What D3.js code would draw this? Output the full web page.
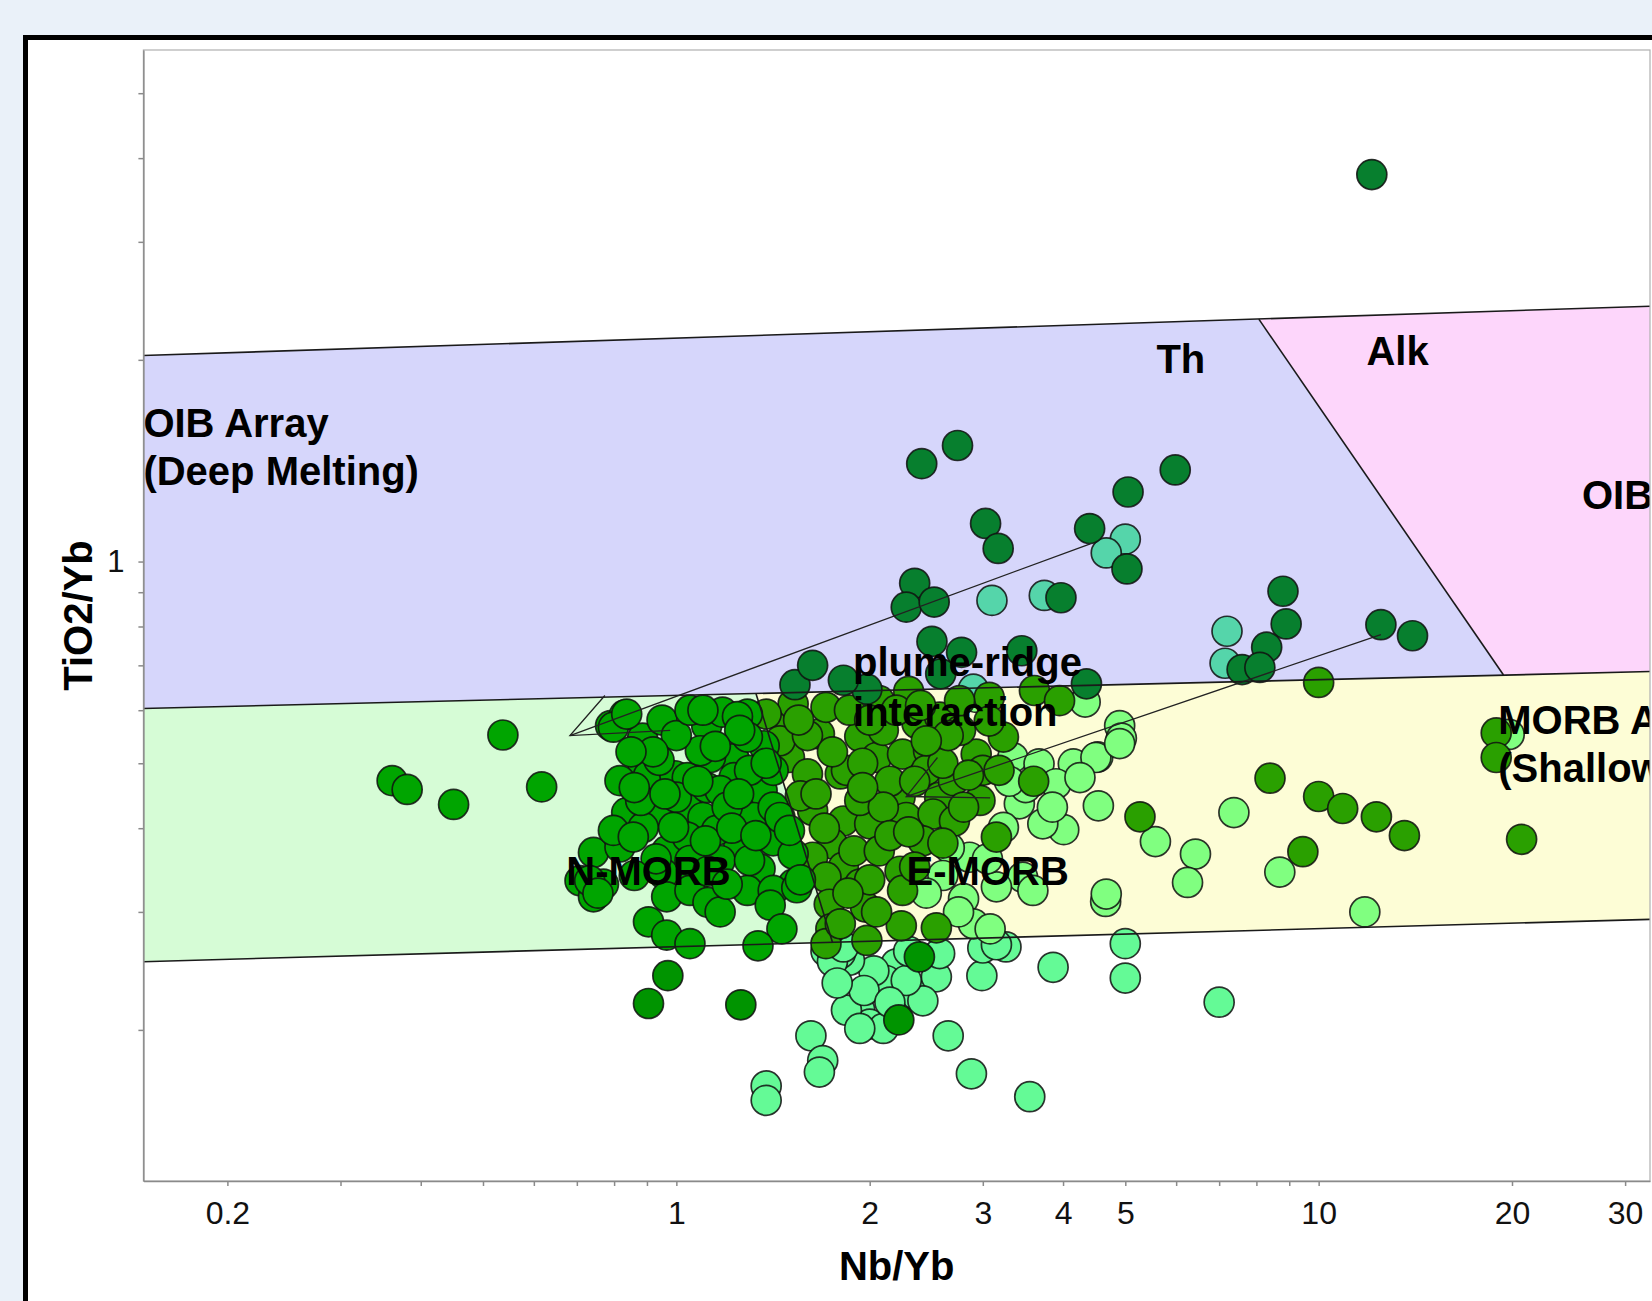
<!DOCTYPE html>
<html><head><meta charset="utf-8">
<script src="https://d3js.org/d3.v7.min.js"></script>
<style>
  body { margin: 0; background: #eaf1f9; overflow: hidden; }
  svg text { font-family: "Liberation Sans", Arial, sans-serif; }
  .axis path, .axis line { stroke: #8a8a8a; stroke-width: 1.5; }
  .axis text { fill: #111; }
  .label { font-weight: bold; font-size: 40px; fill: #000; }
</style>
</head><body>
<svg id="chart" width="1652" height="1301"></svg>
<script>

// ---- data ----
const xTicks = [0.2,0.3,0.4,0.5,0.6,0.7,0.8,0.9,1,2,3,4,5,6,7,8,9,10,20,30];
const xLabels = [0.2,1,2,3,4,5,10,20,30];
const yTicks = [0.2,0.3,0.4,0.5,0.6,0.7,0.8,0.9,1,2,3,4,5];
const yLabels = [1];

// field outlines (Nb/Yb, TiO2/Yb)
const thField    = [[0.1,2.005],[8.07,2.30],[19.4,0.677],[0.1,0.598]];
const alkField   = [[8.07,2.30],[50,2.437],[50,0.692],[19.4,0.677]];
const nmorbField = [[0.1,0.598],[1.33,0.636],[1.75,0.2703],[0.1,0.2502]];
const emorbField = [[1.33,0.636],[50,0.692],[50,0.2958],[1.75,0.2703]];
const boundaries = [
  [[0.1,2.005],[50,2.437]],
  [[0.1,0.598],[50,0.692]],
  [[0.1,0.2502],[50,0.2958]],
  [[8.07,2.30],[19.4,0.677]],
  [[1.33,0.636],[1.75,0.2703]]
];

// plume-ridge interaction vectors: start, tip, two barbs
const arrows = [
  [[4.41,1.063],[0.683,0.55],[0.774,0.631],[0.978,0.56]],
  [[12.5,0.778],[2.28,0.446],[2.55,0.51],[3.08,0.444]]
];

const mintPts = [[5.0,0.269],[5.0,0.239],[7.0,0.22],[3.86,0.248],[3.55,0.159],[2.88,0.172],[2.65,0.196],[2.99,0.241],
  [3.26,0.266],[3.0,0.265],[2.03,0.232],[2.37,0.225],[2.54,0.24],[2.2,0.251],[1.93,0.214],[2.0,0.204],[1.84,0.214],
  [2.12,0.237],[2.42,0.221],[2.57,0.26],[2.03,0.245],[1.86,0.254],[1.8,0.26],[2.28,0.237],[2.1,0.201],[1.93,0.201],
  [1.71,0.262],[1.75,0.253],[1.62,0.196],[1.69,0.18],[1.67,0.173],[1.38,0.165],[1.38,0.157],[1.96,0.229],[1.82,0.266],
  [3.15,0.268],[2.3,0.262],[2.15,0.22],[1.78,0.235]];

const lightPts = [[4.9,0.569],[4.93,0.545],[4.53,0.511],[4.17,0.493],[4.54,0.432],[4.01,0.398],[5.57,0.382],[6.43,0.366],
  [6.25,0.332],[4.66,0.311],[7.38,0.422],[8.7,0.344],[11.8,0.3],[19.8,0.552],[4.33,0.617],[3.34,0.51],[3.67,0.499],
  [4.15,0.499],[4.5,0.51],[4.9,0.535],[3.42,0.435],[3.72,0.406],[3.23,0.401],[3.5,0.46],[3.9,0.466],[4.25,0.476],
  [2.86,0.362],[2.66,0.374],[2.93,0.627],[4.67,0.319],[3.46,0.338],[2.8,0.314],[2.9,0.288],[3.08,0.283],[3.59,0.323],
  [3.15,0.327],[2.6,0.34],[2.75,0.3],[2.45,0.32],[3.3,0.47],[3.05,0.36],[3.85,0.43]];

const tealPts = [[5.0,1.08],[4.67,1.03],[3.1,0.875],[3.74,0.89],[2.9,0.645],[7.2,0.787],[7.15,0.705]];

const olivePts = [[3.07,0.627],[3.61,0.642],[3.95,0.62],[10.0,0.66],[5.27,0.416],[8.4,0.475],[9.45,0.369],[10,0.446],
  [10.9,0.428],[12.3,0.416],[13.6,0.39],[18.9,0.555],[18.9,0.51],[20.7,0.385],
  [1.49,0.58],[1.67,0.553],[1.5,0.51],[1.6,0.482],[1.8,0.482],[1.63,0.425],[1.82,0.41],[1.75,0.379],[1.63,0.362],
  [1.82,0.35],[1.71,0.338],[1.52,0.613],[1.71,0.606],[1.38,0.592],[1.93,0.548],[2.05,0.51],[1.84,0.488],[2.25,0.516],
  [2.47,0.522],[2.45,0.488],[2.23,0.445],[2.57,0.445],[2.7,0.471],[2.93,0.516],[3.23,0.547],[3.0,0.488],[2.97,0.44],
  [2.0,0.406],[2.28,0.415],[2.51,0.42],[2.42,0.383],[1.89,0.37],[2.07,0.37],[3.15,0.388],[1.93,0.33],[2.23,0.345],
  [2.1,0.56],[2.37,0.573],[2.57,0.586],[3.6,0.47],[1.73,0.308],[1.74,0.283],[1.71,0.269],[1.97,0.305],[2.24,0.286],
  [2.54,0.284],[2.25,0.323],[1.98,0.272],[1.8,0.288],[1.45,0.54],[1.56,0.447],[1.93,0.44],[2.15,0.47],[2.77,0.56],
  [2.71,0.41],[2.07,0.62],[1.86,0.6],[2.3,0.64],[2.76,0.62],[3.07,0.578],[3.18,0.488],[2.0,0.335],
  [1.6,0.55],[1.75,0.52],[1.95,0.5],[2.1,0.43],[2.35,0.47],[2.6,0.5],[2.65,0.55],[2.2,0.6],[1.65,0.45],[1.7,0.4],
  [2.15,0.39],[2.6,0.38],[2.35,0.35],[2.05,0.3],[1.85,0.32],[2.4,0.61],[2.85,0.48],[1.55,0.58],[2.0,0.58],[2.45,0.54],
  [2.8,0.43],[1.95,0.46],[2.3,0.395]];

const greenPts = [[0.361,0.471],[0.381,0.457],[0.45,0.434],[0.537,0.551],[0.617,0.461],[0.79,0.569],[0.83,0.59],
  [0.886,0.545],[0.798,0.566],[0.837,0.592],[0.888,0.493],[0.905,0.479],[0.995,0.479],[0.837,0.422],[0.932,0.425],
  [1.04,0.428],[1.1,0.415],[0.743,0.368],[0.817,0.375],[0.966,0.37],[1.115,0.569],[1.18,0.596],[1.29,0.592],[1.23,0.508],
  [1.115,0.46],[1.23,0.476],[1.36,0.455],[1.32,0.415],[1.25,0.381],[1.415,0.383],[1.155,0.397],[1.04,0.388],[1.17,0.358],
  [1.35,0.348],[1.52,0.366],[1.52,0.33],[1.415,0.43],[1.37,0.531],[1.29,0.547],[1.13,0.51],[1.04,0.476],[1.415,0.488],
  [1.45,0.415],[0.99,0.401],[0.888,0.401],[0.798,0.397],[0.857,0.388],[0.708,0.334],[0.77,0.33],[1.06,0.33],[0.955,0.342],
  [1.29,0.323],[1.415,0.323],[0.743,0.316],[0.966,0.316],[1.05,0.323],[1.12,0.31],[1.17,0.3],[0.905,0.29],[0.966,0.277],
  [1.05,0.269],[1.4,0.307],[1.54,0.326],[1.46,0.283],[1.34,0.267],[0.733,0.334],[0.755,0.32],[1.245,0.587],[0.94,0.505],
  [1.09,0.522],[1.17,0.455],[1.05,0.358],[1.3,0.488],[0.88,0.44],[0.817,0.471],[1.11,0.383],[1.3,0.358],[1.255,0.56],
  [1.56,0.335],[1.5,0.397],
  [0.95,0.58],[1.0,0.55],[1.05,0.6],[0.92,0.52],[1.0,0.445],[1.08,0.47],[1.2,0.43],[1.25,0.45],[1.15,0.53],[0.86,0.46],
  [0.96,0.45],[1.22,0.4],[1.33,0.39],[0.93,0.36],[0.86,0.34],[1.12,0.345],[1.2,0.33],[1.38,0.5],[0.85,0.52],[1.1,0.6]];

const green2Pts = [[0.97,0.241],[0.905,0.219],[1.26,0.218],[2.39,0.257],[2.22,0.207]];

const darkPts = [[12.1,3.78],[2.41,1.40],[2.74,1.49],[5.98,1.37],[5.05,1.27],[3.03,1.14],[3.17,1.046],[4.4,1.12],
  [5.03,0.975],[2.35,0.928],[2.28,0.855],[2.52,0.87],[3.97,0.883],[2.5,0.76],[2.78,0.732],[3.45,0.736],[2.58,0.68],
  [1.98,0.645],[1.82,0.665],[4.35,0.657],[8.8,0.903],[8.9,0.807],[8.3,0.745],[7.6,0.69],[8.1,0.695],[12.5,0.805],
  [14.0,0.775],[1.53,0.655],[1.63,0.70]];

// label text with anchor (Nb/Yb, TiO2/Yb)
const fieldLabels = [
  ["OIB Array", 0.148, 1.534], ["(Deep Melting)", 0.148, 1.30],
  ["Th", 5.59, 1.91], ["Alk", 11.87, 1.965], ["OIB", 25.7, 1.198],
  ["MORB Array", 19.04, 0.553], ["(Shallow Melting)", 19.04, 0.469],
  ["plume-ridge", 1.884, 0.675], ["interaction", 1.884, 0.568],
  ["N-MORB", 0.674, 0.329], ["E-MORB", 2.283, 0.329]
];

// ---- chart ----
const svg = d3.select("#chart");
const plot = {left: 143.4, right: 1650, top: 50, bottom: 1181};

svg.append("rect").attr("x", 25.5).attr("y", 37.5)
   .attr("width", 1700).attr("height", 1400)
   .attr("fill", "#fff").attr("stroke", "#000").attr("stroke-width", 5);

const x = d3.scaleLog().domain([0.148, 32.8]).range([plot.left, plot.right]);
const y = d3.scaleLog().domain([0.119, 5.8]).range([plot.bottom, plot.top]);

svg.append("clipPath").attr("id", "clip").append("rect")
   .attr("x", plot.left).attr("y", plot.top)
   .attr("width", plot.right - plot.left).attr("height", plot.bottom - plot.top);

const g = svg.append("g").attr("clip-path", "url(#clip)");
const line = d3.line().x(d => x(d[0])).y(d => y(d[1]));

// fields
[[thField, "#d6d6fb"], [alkField, "#fdd6fb"], [nmorbField, "#d6fcd6"], [emorbField, "#fdfdd6"]]
  .forEach(([poly, col]) => {
    g.append("path").attr("d", line(poly) + "Z").attr("fill", col);
  });

// points
const groups = [
  [mintPts, "#64fa96"], [lightPts, "#80ff80"], [tealPts, "#55d5aa"], [olivePts, "#2aa000"],
  [greenPts, "#00a500"], [green2Pts, "#009400"], [darkPts, "#077f2e"]
];
groups.forEach(([pts, col]) => {
  g.append("g").selectAll("circle").data(pts).join("circle")
    .attr("cx", d => x(d[0]))
    .attr("cy", d => y(d[1]))
    .attr("r", 15)
    .attr("fill", col)
    .attr("stroke", "#111")
    .attr("stroke-opacity", 0.85)
    .attr("stroke-width", 1.7);
});

// field boundaries
boundaries.forEach(b => {
  g.append("path").attr("d", line(b)).attr("fill", "none")
   .attr("stroke", "#1a1a1a").attr("stroke-width", 1.6);
});

// arrows
arrows.forEach(a => {
  g.append("path").attr("d", line([a[0], a[1]])).attr("fill", "none")
   .attr("stroke", "#222").attr("stroke-width", 1.3);
  g.append("path").attr("d", line([a[2], a[1], a[3]])).attr("fill", "none")
   .attr("stroke", "#222").attr("stroke-width", 1.3);
});

// labels
g.selectAll("text.label").data(fieldLabels).join("text")
  .attr("class", "label")
  .attr("x", d => x(d[1]))
  .attr("y", d => y(d[2]))
  .text(d => d[0]);

// plot box
svg.append("rect").attr("x", plot.left).attr("y", plot.top)
   .attr("width", plot.right - plot.left).attr("height", plot.bottom - plot.top)
   .attr("fill", "none").attr("stroke", "#b0b0b0").attr("stroke-width", 1.2);

// axes
const xAxis = d3.axisBottom(x).tickValues(xTicks).tickSize(5).tickSizeOuter(0).tickPadding(15)
  .tickFormat(d => xLabels.includes(d) ? d : "");
svg.append("g").attr("class", "axis")
   .attr("transform", "translate(0," + plot.bottom + ")")
   .call(xAxis)
   .selectAll("text").style("font-size", "32px");

const yAxis = d3.axisLeft(y).tickValues(yTicks).tickSize(5).tickSizeOuter(0).tickPadding(14)
  .tickFormat(d => yLabels.includes(d) ? d : "");
svg.append("g").attr("class", "axis")
   .attr("transform", "translate(" + plot.left + ",0)")
   .call(yAxis)
   .selectAll("text").style("font-size", "31px");

svg.append("text").attr("class", "label")
   .attr("x", (plot.left + plot.right) / 2).attr("y", 1280)
   .attr("text-anchor", "middle").text("Nb/Yb");

svg.append("text").attr("class", "label")
   .attr("transform", "translate(92," + ((plot.top + plot.bottom) / 2) + ") rotate(-90)")
   .attr("text-anchor", "middle").text("TiO2/Yb");

</script>
</body></html>
